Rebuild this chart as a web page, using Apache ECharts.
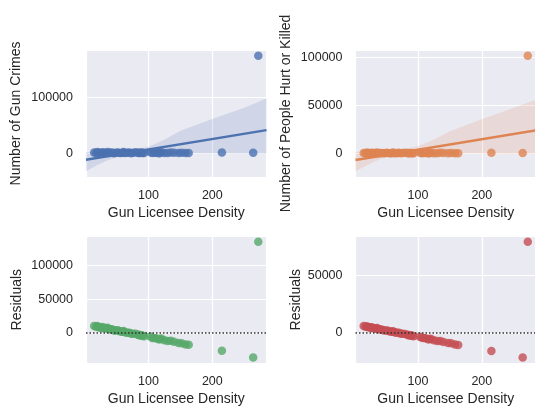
<!DOCTYPE html>
<html>
<head>
<meta charset="utf-8">
<script src="https://cdn.jsdelivr.net/npm/echarts@6/dist/echarts.min.js"></script>
<style>
  html, body { margin: 0; padding: 0; background: #ffffff; }
  #chart { width: 535px; height: 407px; }
</style>
</head>
<body>
<div id="chart"></div>
<script>
// Gun licensee density per state and the two outcome counts.
const licenseeDensity = [
  15, 18, 20, 22, 24, 26, 28, 30, 32, 34,
  36, 38, 40, 43, 46, 49, 52, 55, 58, 60,
  61, 64, 67, 70, 73, 76, 80, 84, 85, 87,
  89, 91, 93, 103, 106, 109, 112, 116, 118, 120,
  125, 130, 135, 140, 147, 152, 158, 163, 215, 264,
  272
];
const gunCrimes = [
  1200, 300, 2100, 650, 900, 150, 1800, 400, 1100, 700,
  2400, 500, 950, 1300, 250, 800, 1600, 600, 350, 1000,
  2200, 450, 750, 1400, 200, 900, 1700, 550, 1050, 300,
  1250, 650, 500, 1900, 400, 800, 1150, 250, 700, 2000,
  600, 350, 1500, 850, 450, 1100, 300, 700, 1500, 800,
  173800
];
const peopleHurtKilled = [
  500, 120, 900, 250, 380, 60, 700, 180, 450, 300,
  1000, 200, 400, 520, 90, 330, 650, 240, 150, 420,
  880, 190, 300, 560, 80, 360, 700, 230, 430, 120,
  500, 260, 200, 780, 170, 320, 470, 100, 280, 820,
  240, 140, 600, 350, 180, 450, 120, 290, 600, 400,
  101400
];

// 95% confidence band of each fit, sampled along the density axis.
const bandX = [2, 20, 40, 60, 80, 100, 125, 150, 200, 250, 285];
const crimesBandUpper = [1800, 2600, 3500, 4800, 7500, 11500, 24000, 40000, 61000, 81000, 97500];
const crimesBandLower = [-32000, -21000, -10500, -4000, -1000, 300, 0, -200, -500, -800, -1000];
const hurtBandUpper = [1500, 1900, 2400, 3100, 5000, 7500, 14500, 23000, 35500, 47500, 56000];
const hurtBandLower = [-18500, -12500, -6000, -2300, -600, 200, 0, -100, -300, -500, -600];

const xLabel = 'Gun Licensee Density';
const crimesLabel = 'Number of Gun Crimes';
const hurtLabel = 'Number of People Hurt or Killed';
const residualLabel = 'Residuals';

// ---- least-squares fit and residuals ----
function fitLine(xs, ys) {
  const n = xs.length;
  const mx = xs.reduce((a, b) => a + b, 0) / n;
  const my = ys.reduce((a, b) => a + b, 0) / n;
  let sxy = 0, sxx = 0;
  for (let i = 0; i < n; i++) {
    sxy += (xs[i] - mx) * (ys[i] - my);
    sxx += (xs[i] - mx) * (xs[i] - mx);
  }
  const slope = sxy / sxx;
  return { slope, intercept: my - slope * mx };
}
const crimesFit = fitLine(licenseeDensity, gunCrimes);
const hurtFit = fitLine(licenseeDensity, peopleHurtKilled);
const residuals = (ys, f) => ys.map((y, i) => y - (f.intercept + f.slope * licenseeDensity[i]));
const crimesResid = residuals(gunCrimes, crimesFit);
const hurtResid = residuals(peopleHurtKilled, hurtFit);

function padded(values) {
  const lo = Math.min(...values), hi = Math.max(...values);
  const d = (hi - lo) * 0.05;
  return [lo - d, hi + d];
}
const xRange = padded(licenseeDensity);
const lineAt = (f, x) => f.intercept + f.slope * x;
const crimesRange = padded(gunCrimes.concat(crimesBandLower, crimesBandUpper,
  [lineAt(crimesFit, xRange[0]), lineAt(crimesFit, xRange[1])]));
const hurtRange = padded(peopleHurtKilled.concat(hurtBandLower, hurtBandUpper,
  [lineAt(hurtFit, xRange[0]), lineAt(hurtFit, xRange[1])]));
const crimesResidRange = padded(crimesResid);
const hurtResidRange = padded(hurtResid);

const zip = (xs, ys) => xs.map((x, i) => [x, ys[i]]);

// ---- styling ----
const FONT = '"Liberation Sans", Arial, sans-serif';
const TXT = '#262626';
const PANEL_BG = '#EAEAF2';
const BLUE = '#4C72B0', ORANGE = '#DD8452', GREEN = '#55A868', RED = '#C44E52';

function grid(left, top, height) {
  return {
    left, top, width: 180.5, height,
    show: true, backgroundColor: PANEL_BG, borderWidth: 0,
    containLabel: false, outerBoundsMode: 'none'
  };
}

function xAxis(gridIndex) {
  return {
    type: 'value', gridIndex,
    min: xRange[0], max: xRange[1],
    minInterval: 100, maxInterval: 100,
    name: xLabel, nameLocation: 'middle', nameGap: 29,
    nameTextStyle: { fontSize: 14, color: TXT, fontFamily: FONT },
    axisLine: { show: false }, axisTick: { show: false },
    axisLabel: {
      margin: 12, fontSize: 12.5, color: TXT, fontFamily: FONT,
      formatter: v => (Math.abs(v % 100) < 1e-6 ? String(Math.round(v)) : '')
    },
    splitLine: { show: true, lineStyle: { color: '#ffffff', width: 1.2 } }
  };
}

function yAxis(gridIndex, range, step, name, gap) {
  return {
    type: 'value', gridIndex,
    min: range[0], max: range[1],
    minInterval: step, maxInterval: step,
    name, nameLocation: 'middle', nameGap: gap, nameRotate: 90,
    nameTextStyle: { fontSize: 14, color: TXT, fontFamily: FONT },
    axisLine: { show: false }, axisTick: { show: false },
    axisLabel: {
      margin: 13, fontSize: 12.5, color: TXT, fontFamily: FONT,
      formatter: v => (Math.abs(v % step) < 1e-6 ? String(Math.round(v)) : '')
    },
    splitLine: { show: true, lineStyle: { color: '#ffffff', width: 1.2 } }
  };
}

function bandSeries(axisIndex, upper, lower, color) {
  return {
    type: 'custom', xAxisIndex: axisIndex, yAxisIndex: axisIndex,
    clip: true, silent: true, z: 3,
    data: [[bandX[0], lower[0]]],
    renderItem: (params, api) => {
      const pts = [];
      for (let i = 0; i < bandX.length; i++) pts.push(api.coord([bandX[i], upper[i]]));
      for (let i = bandX.length - 1; i >= 0; i--) pts.push(api.coord([bandX[i], lower[i]]));
      return { type: 'polygon', shape: { points: pts }, style: { fill: color, opacity: 0.16 } };
    }
  };
}

function fitSeries(axisIndex, f, color) {
  return {
    type: 'line', xAxisIndex: axisIndex, yAxisIndex: axisIndex,
    data: [[xRange[0], lineAt(f, xRange[0])], [xRange[1], lineAt(f, xRange[1])]],
    showSymbol: false, silent: true, z: 4,
    lineStyle: { color, width: 2.5 }
  };
}

function scatterSeries(axisIndex, data, color, extra) {
  return Object.assign({
    type: 'scatter', xAxisIndex: axisIndex, yAxisIndex: axisIndex,
    data, symbolSize: 8.5, silent: true, z: 2,
    itemStyle: { color, opacity: 0.8 }
  }, extra || {});
}

const zeroLine = {
  silent: true, symbol: 'none', label: { show: false },
  lineStyle: { type: [1.5, 2], color: '#333333', width: 1.5 },
  data: [{ yAxis: 0 }]
};

const chart = echarts.init(document.getElementById('chart'), null, { renderer: 'canvas' });
chart.setOption({
  animation: false,
  backgroundColor: '#ffffff',
  grid: [grid(86, 50, 127), grid(355.5, 50, 127), grid(86, 236, 127.3), grid(355.5, 236, 127.3)],
  xAxis: [xAxis(0), xAxis(1), xAxis(2), xAxis(3)],
  yAxis: [
    yAxis(0, crimesRange, 100000, crimesLabel, 63),
    yAxis(1, hurtRange, 50000, hurtLabel, 62),
    yAxis(2, crimesResidRange, 50000, residualLabel, 62),
    yAxis(3, hurtResidRange, 50000, residualLabel, 52)
  ],
  series: [
    scatterSeries(0, zip(licenseeDensity, gunCrimes), BLUE),
    bandSeries(0, crimesBandUpper, crimesBandLower, BLUE),
    fitSeries(0, crimesFit, BLUE),
    scatterSeries(1, zip(licenseeDensity, peopleHurtKilled), ORANGE),
    bandSeries(1, hurtBandUpper, hurtBandLower, ORANGE),
    fitSeries(1, hurtFit, ORANGE),
    scatterSeries(2, zip(licenseeDensity, crimesResid), GREEN, { markLine: zeroLine }),
    scatterSeries(3, zip(licenseeDensity, hurtResid), RED, { markLine: zeroLine })
  ]
});
</script>
</body>
</html>
